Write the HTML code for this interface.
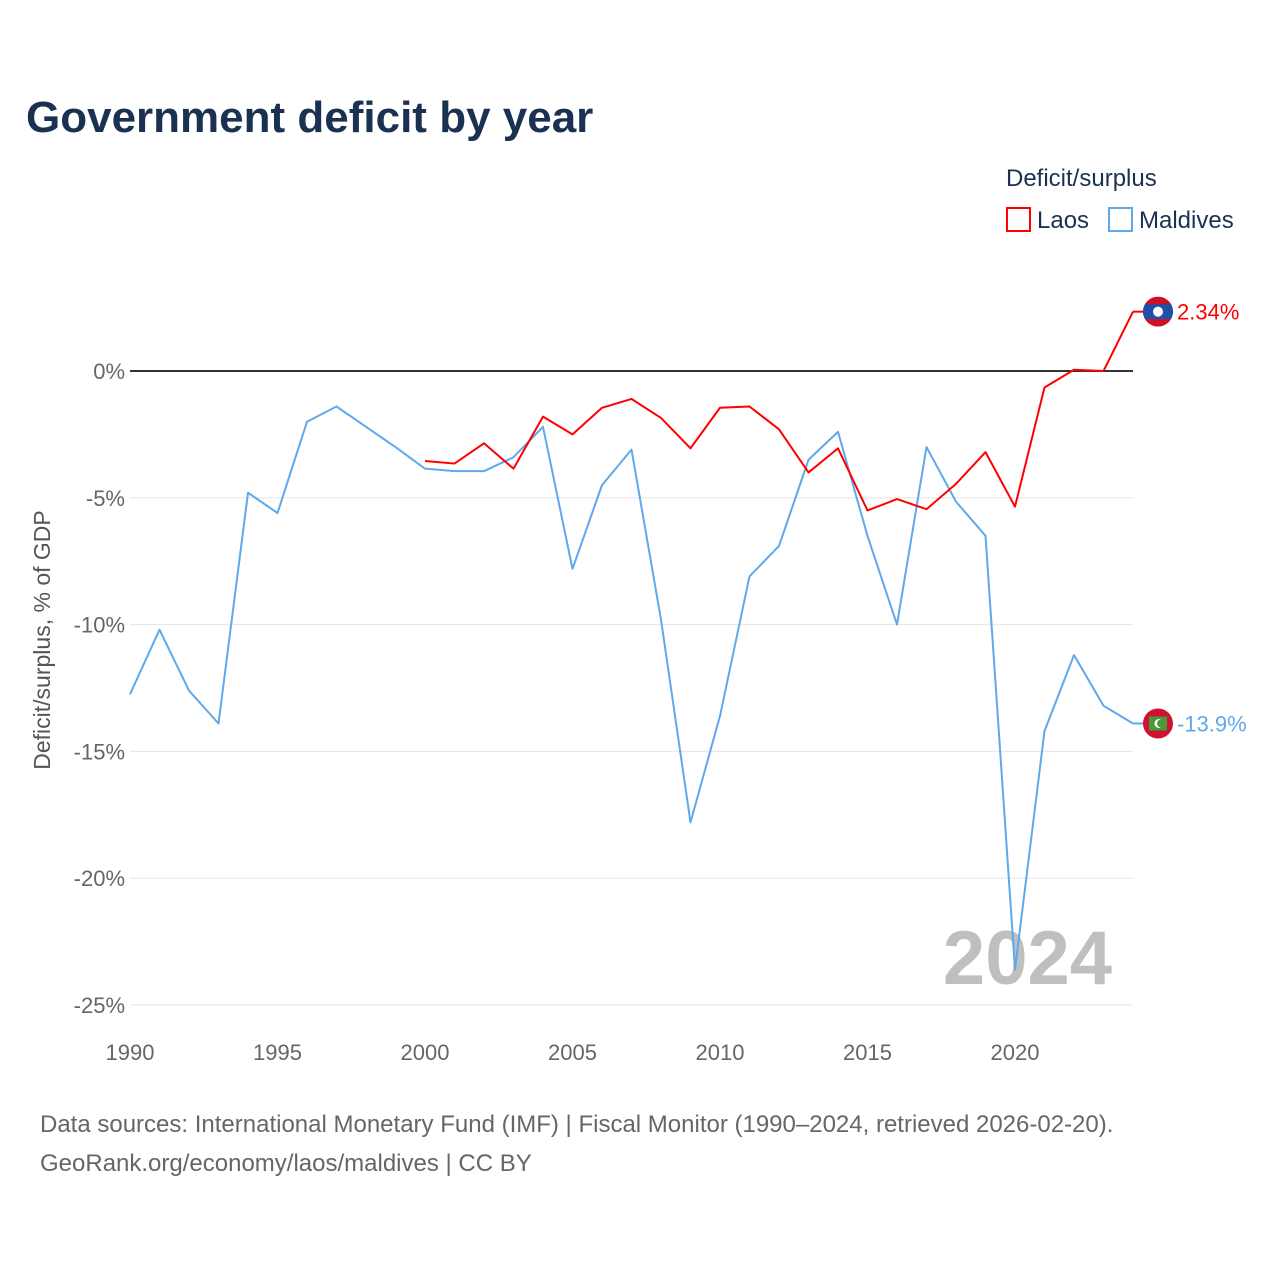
<!DOCTYPE html>
<html><head><meta charset="utf-8"><style>
html,body{margin:0;padding:0;background:#fff;}
body{width:1280px;height:1280px;overflow:hidden;font-family:"Liberation Sans",sans-serif;}
</style></head><body>
<svg id="chart" width="1280" height="1280" xmlns="http://www.w3.org/2000/svg" font-family="Liberation Sans, sans-serif">
<text x="26" y="132" font-size="44" font-weight="bold" fill="#1b3152">Government deficit by year</text>
<text x="1006" y="186" font-size="24" fill="#1b3152">Deficit/surplus</text>
<g><rect x="1007" y="208" width="23" height="23" fill="none" stroke="#ff0000" stroke-width="2"/><text x="1037" y="228" font-size="24" fill="#1b3152">Laos</text></g>
<g><rect x="1109" y="208" width="23" height="23" fill="none" stroke="#5fa8ec" stroke-width="2"/><text x="1139" y="228" font-size="24" fill="#1b3152">Maldives</text></g>
<text transform="translate(50,640) rotate(-90)" text-anchor="middle" font-size="23" fill="#555">Deficit/surplus, % of GDP</text>
<text x="1112" y="984" text-anchor="end" font-size="76" font-weight="bold" fill="#bfbfbf">2024</text>
<g id="grid"></g><g id="series"></g>
<text x="40" y="1132" font-size="24" fill="#666">Data sources: International Monetary Fund (IMF) | Fiscal Monitor (1990–2024, retrieved 2026-02-20).</text>
<text x="40" y="1171" font-size="24" fill="#666">GeoRank.org/economy/laos/maldives | CC BY</text>
</svg>
<script>
const maldivesYears = [1990,1991,1992,1993,1994,1995,1996,1997,1998,1999,2000,2001,2002,2003,2004,2005,2006,2007,2008,2009,2010,2011,2012,2013,2014,2015,2016,2017,2018,2019,2020,2021,2022,2023,2024];
const maldivesValues = [-12.75,-10.2,-12.6,-13.9,-4.8,-5.6,-2.0,-1.4,-2.2,-3.0,-3.85,-3.95,-3.95,-3.4,-2.2,-7.8,-4.5,-3.1,-9.8,-17.8,-13.6,-8.1,-6.9,-3.5,-2.4,-6.5,-10.0,-3.0,-5.15,-6.5,-23.6,-14.2,-11.2,-13.2,-13.9];
const laosYears = [2000,2001,2002,2003,2004,2005,2006,2007,2008,2009,2010,2011,2012,2013,2014,2015,2016,2017,2018,2019,2020,2021,2022,2023,2024];
const laosValues = [-3.55,-3.65,-2.85,-3.85,-1.8,-2.5,-1.45,-1.1,-1.85,-3.05,-1.45,-1.4,-2.3,-4.0,-3.05,-5.5,-5.05,-5.45,-4.45,-3.2,-5.35,-0.65,0.05,0,2.34];
const yTicks = [0,-5,-10,-15,-20,-25];
const yTickLabels = ["0%","-5%","-10%","-15%","-20%","-25%"];
const xTicks = [1990,1995,2000,2005,2010,2015,2020];
const laosLabel = "2.34%";
const maldivesLabel = "-13.9%";

const NS="http://www.w3.org/2000/svg";
const x = yr => 130 + (yr-1990)*29.5;
const y = v => 371 - v*25.36;
function mk(tag, attrs, parent){const e=document.createElementNS(NS,tag);for(const k in attrs)e.setAttribute(k,attrs[k]);parent.appendChild(e);return e;}
const grid=document.getElementById('grid'), ser=document.getElementById('series');
const svg=document.getElementById('chart');
const defs=mk('defs',{},svg);
yTicks.forEach((t,i)=>{
  const l=mk('line',{x1:130,x2:1133,y1:y(t),y2:y(t),stroke:t===0?'#333':'#e6e6e6','stroke-width':t===0?2:1},grid);
  
  
  const tx=mk('text',{x:125,y:y(t)+8,'text-anchor':'end','font-size':22,fill:'#666'},grid);
  tx.textContent=yTickLabels[i];
  
  
});
xTicks.forEach(t=>{
  const tx=mk('text',{x:x(t),y:1060,'text-anchor':'middle','font-size':22,fill:'#666'},grid);
  tx.textContent=t;
  
  
});
function line(years, vals, color, name){
  const p=mk('polyline',{points:years.map((yr,i)=>x(yr)+','+y(vals[i])).join(' '),fill:'none',stroke:color,'stroke-width':2,'stroke-linejoin':'round'},ser);
  
  
}
line(maldivesYears, maldivesValues, '#5fa8ec', 'maldives-line');
line(laosYears, laosValues, '#ff0000', 'laos-line');
function endLabel(years, vals, color, label, name, flag){
  const lx=x(years[years.length-1]), ly=y(vals[vals.length-1]);
  const g=mk('g',{},ser);
  
  
  mk('line',{x1:lx,y1:ly,x2:lx+12,y2:ly,stroke:color,'stroke-width':2},g);
  const cp=mk('clipPath',{id:'clip-'+flag},defs);
  mk('circle',{cx:lx+25,cy:ly,r:15},cp);
  const fg=mk('g',{'clip-path':'url(#clip-'+flag+')'},g);
  if(flag==='laos'){
    mk('rect',{x:lx+10,y:ly-15,width:30,height:30,fill:'#ce1126'},fg);
    mk('rect',{x:lx+10,y:ly-7.5,width:30,height:15,fill:'#1f4fa8'},fg);
    mk('circle',{cx:lx+25,cy:ly,r:5,fill:'#fff'},fg);
  } else {
    mk('rect',{x:lx+10,y:ly-15,width:30,height:30,fill:'#d21034'},fg);
    mk('rect',{x:lx+16,y:ly-7,width:18,height:14,fill:'#4a9a3a'},fg);
    mk('circle',{cx:lx+26,cy:ly,r:4.5,fill:'#fff'},fg);
    mk('circle',{cx:lx+28,cy:ly,r:4,fill:'#4a9a3a'},fg);
  }
  const t=mk('text',{x:lx+44,y:ly+8,'font-size':22,fill:color},g);
  t.textContent=label;
}
endLabel(laosYears, laosValues, '#ff0000', laosLabel, 'laos-end-label','laos');
endLabel(maldivesYears, maldivesValues, '#5fa8ec', maldivesLabel, 'maldives-end-label','maldives');
</script>
</body></html>
